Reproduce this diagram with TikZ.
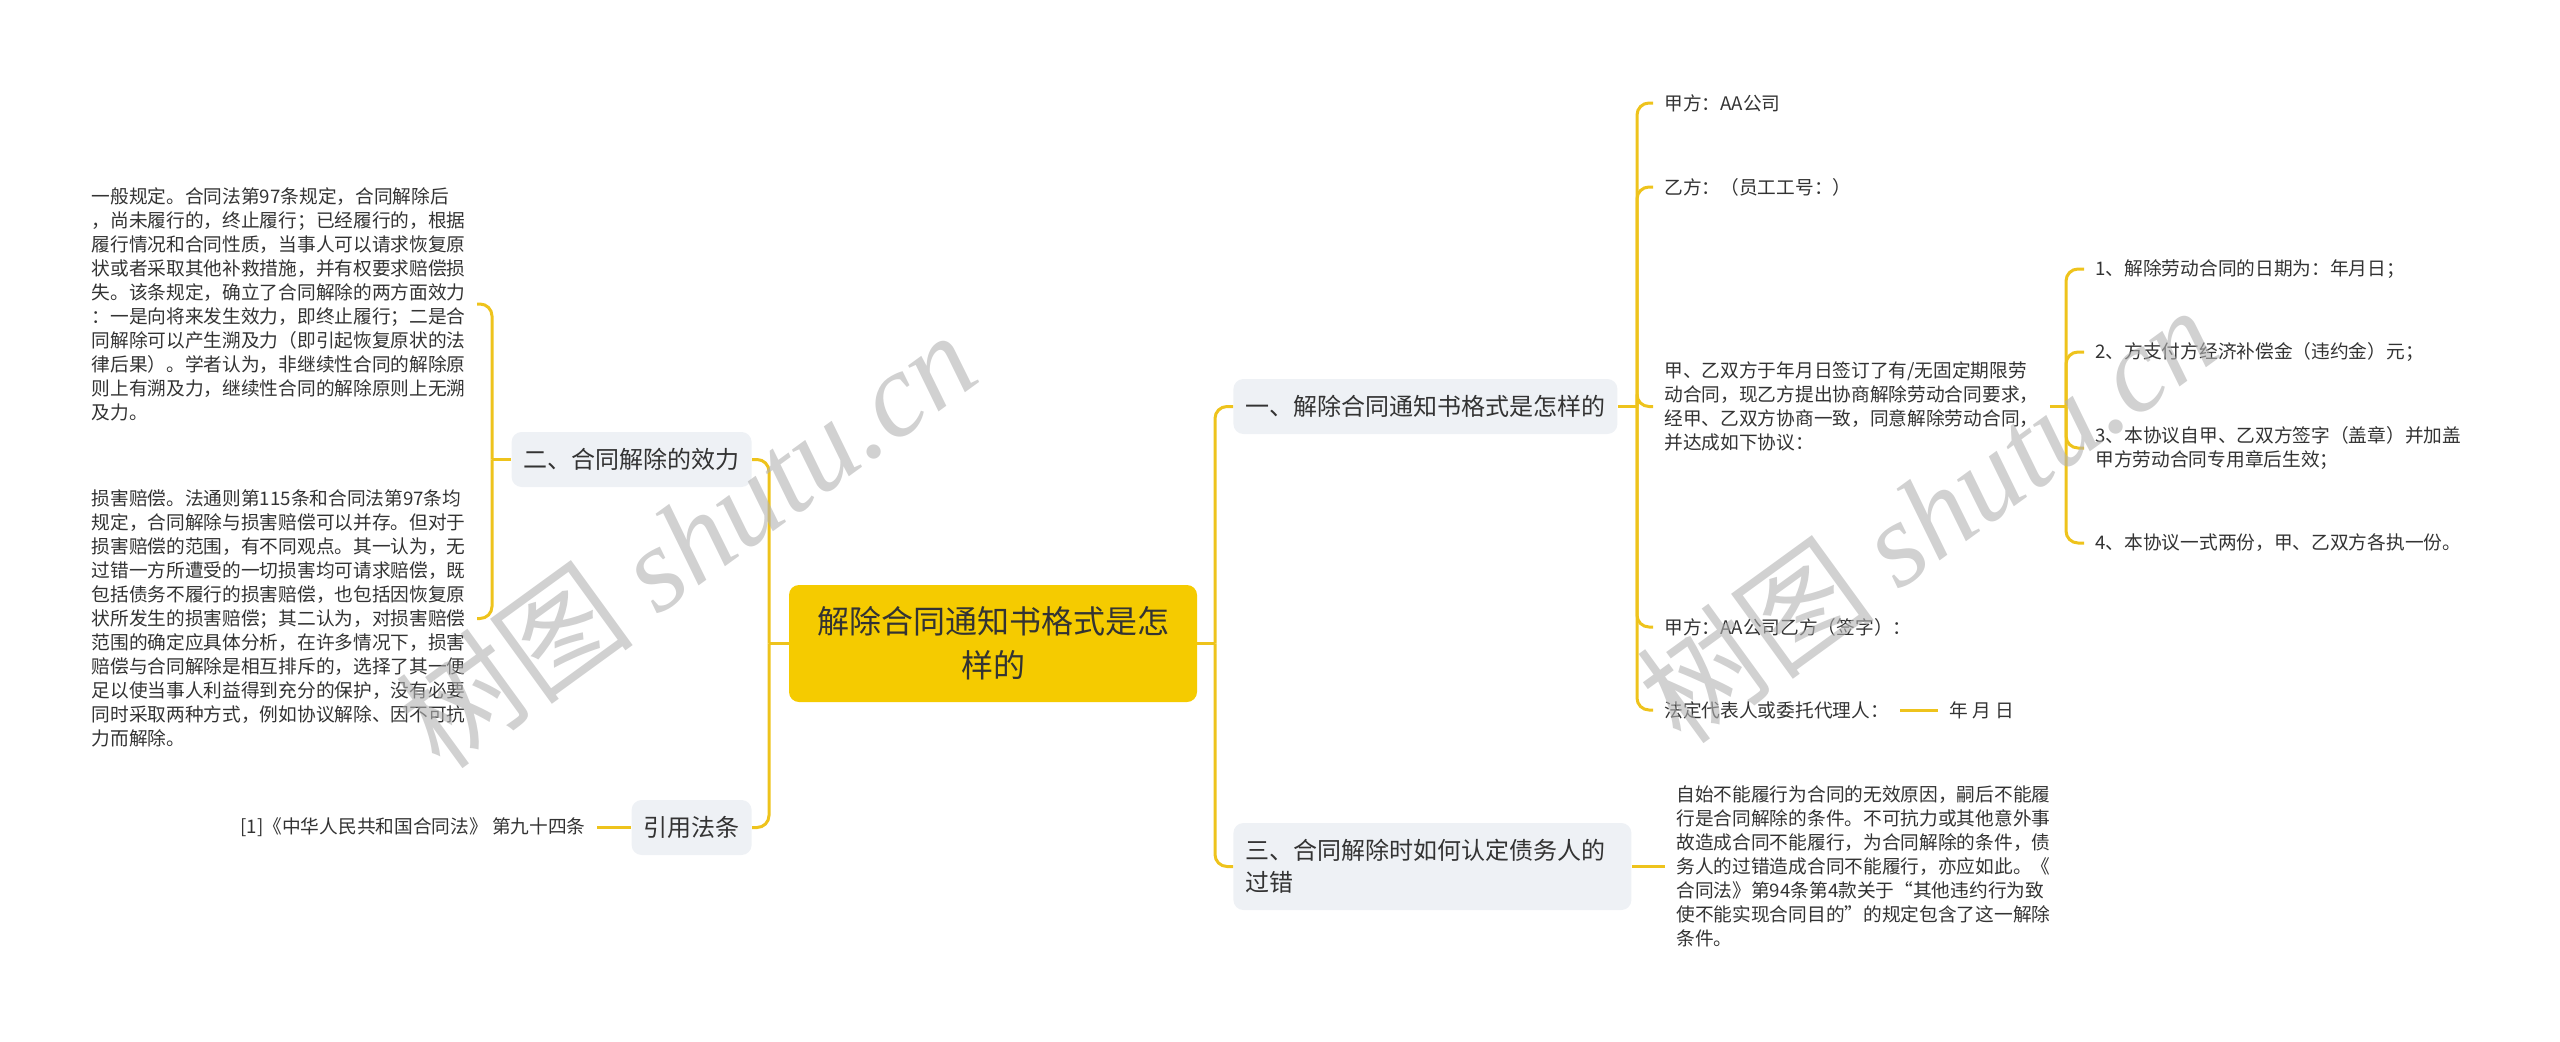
\documentclass[tikz,border=0pt]{standalone}
\usepackage{fontspec}
\setmainfont{Noto Sans CJK SC}
\newfontfamily\wmserif{Liberation Serif}
\definecolor{mmyellow}{HTML}{F5CB00}
\definecolor{mmline}{HTML}{EEC31C}
\definecolor{mmbox}{HTML}{EEF1F5}
\definecolor{mmtext}{HTML}{333333}

\begin{document}
\begin{tikzpicture}[x=0.5pt, y=-0.5pt,
        every node/.style={text=mmtext},
        root/.style={fill=mmyellow, rounded corners=5pt, minimum width=204pt, minimum height=58.5pt, align=center, font=\fontsize{16}{22}\selectfont},
        topic/.style={fill=mmbox, rounded corners=5pt, minimum height=27.5pt, inner xsep=6pt, align=left, font=\fontsize{12}{16}\selectfont},
        leaf/.style={inner xsep=5.5pt, inner ysep=0pt, align=left, font=\fontsize{9.35}{12}\selectfont},
        link/.style={draw=mmline, line width=1.5pt, rounded corners=6pt},
        wm/.style={text=gray!60, text opacity=0.6, font=\fontsize{60}{60}\selectfont, rotate=36}]
            \useasboundingbox (0, 0) rectangle (2560, 1041);

            \node[root] (root) at (993, 643.5) {解除合同通知书格式是怎\\样的};

            \node[topic, anchor=west] (sec1) at (1233, 406.5) {一、解除合同通知书格式是怎样的};
            \node[topic, anchor=west, text width=187pt, minimum height=43.5pt] (sec3) at (1233, 866.5) {三、合同解除时如何认定债务人的\\过错};
            \node[topic, anchor=east] (sec2) at (752, 459.5) {二、合同解除的效力};
            \node[topic, anchor=east] (cite) at (752, 827.5) {引用法条};

            \coordinate (rspine) at (1215, 643.5);
            \coordinate (lspine) at (769, 643.5);
            \draw[link] (root.east) to (rspine);
            \draw[link] (root.west) to (lspine);
            \foreach \n in {sec1,sec3}{
                \draw[link] (rspine) |- (\n.west);
            }
            \foreach \n in {sec2,cite}{
                \draw[link] (lspine) |- (\n.east);
            }

            \node[leaf, anchor=east] (eff1) at (477, 304) {一般规定。合同法第97条规定，合同解除后\\，尚未履行的，终止履行；已经履行的，根据\\履行情况和合同性质，当事人可以请求恢复原\\状或者采取其他补救措施，并有权要求赔偿损\\失。该条规定，确立了合同解除的两方面效力\\：一是向将来发生效力，即终止履行；二是合\\同解除可以产生溯及力（即引起恢复原状的法\\律后果）。学者认为，非继续性合同的解除原\\则上有溯及力，继续性合同的解除原则上无溯\\及力。};
            \node[leaf, anchor=east] (eff2) at (477, 618.5) {损害赔偿。法通则第115条和合同法第97条均\\规定，合同解除与损害赔偿可以并存。但对于\\损害赔偿的范围，有不同观点。其一认为，无\\过错一方所遭受的一切损害均可请求赔偿，既\\包括债务不履行的损害赔偿，也包括因恢复原\\状所发生的损害赔偿；其二认为，对损害赔偿\\范围的确定应具体分析，在许多情况下，损害\\赔偿与合同解除是相互排斥的，选择了其一便\\足以使当事人利益得到充分的保护，没有必要\\同时采取两种方式，例如协议解除、因不可抗\\力而解除。};
            \coordinate (s2spine) at (492, 459.5);
            \draw[link] (sec2.west) to (s2spine);
            \foreach \n in {eff1,eff2}{
                \draw[link] (s2spine) |- (\n.east);
            }

            \node[leaf, anchor=east] (law) at (597, 827.5) {[1]《中华人民共和国合同法》 第九十四条};
            \draw[link] (cite.west) to (law.east);

            \node[leaf, anchor=west] (p1) at (1653, 103) {甲方：AA公司};
            \node[leaf, anchor=west] (p2) at (1653, 187) {乙方：（员工工号：）};
            \node[leaf, anchor=west] (p3) at (1653, 406.5) {甲、乙双方于年月日签订了有/无固定期限劳\\动合同，现乙方提出协商解除劳动合同要求，\\经甲、乙双方协商一致，同意解除劳动合同，\\并达成如下协议：};
            \node[leaf, anchor=west] (p4) at (1653, 627) {甲方：AA公司乙方（签字）：};
            \node[leaf, anchor=west] (p5) at (1653, 710) {法定代表人或委托代理人：};
            \coordinate (s1spine) at (1637, 406.5);
            \draw[link] (sec1.east) to (s1spine);
            \foreach \n in {p1,p2,p3,p4,p5}{
                \draw[link] (s1spine) |- (\n.west);
            }

            \node[leaf, anchor=west] (date) at (1938, 710) {年 月 日};
            \draw[link] (p5.east) to (date.west);

            \node[leaf, anchor=west] (q1) at (2084, 269) {1、解除劳动合同的日期为：年月日；};
            \node[leaf, anchor=west] (q2) at (2084, 352) {2、方支付方经济补偿金（违约金）元；};
            \node[leaf, anchor=west] (q3) at (2084, 448) {3、本协议自甲、乙双方签字（盖章）并加盖\\甲方劳动合同专用章后生效；};
            \node[leaf, anchor=west] (q4) at (2084, 543) {4、本协议一式两份，甲、乙双方各执一份。};
            \coordinate (p3spine) at (2066, 406.5);
            \draw[link] (p3.east) to (p3spine);
            \foreach \n in {q1,q2,q3,q4}{
                \draw[link] (p3spine) |- (\n.west);
            }

            \node[leaf, anchor=west] (r1) at (1665, 866.5) {自始不能履行为合同的无效原因，嗣后不能履\\行是合同解除的条件。不可抗力或其他意外事\\故造成合同不能履行，为合同解除的条件，债\\务人的过错造成合同不能履行，亦应如此。《\\合同法》第94条第4款关于“其他违约行为致\\使不能实现合同目的”的规定包含了这一解除\\条件。};
            \draw[link] (sec3.east) to (r1.west);

            \node[wm] (wm1) at (686, 539) {树图 {\wmserif\itshape shutu.cn}};
            \node[wm] (wm2) at (1927, 514) {树图 {\wmserif\itshape shutu.cn}};
        \end{tikzpicture}
\end{document}
